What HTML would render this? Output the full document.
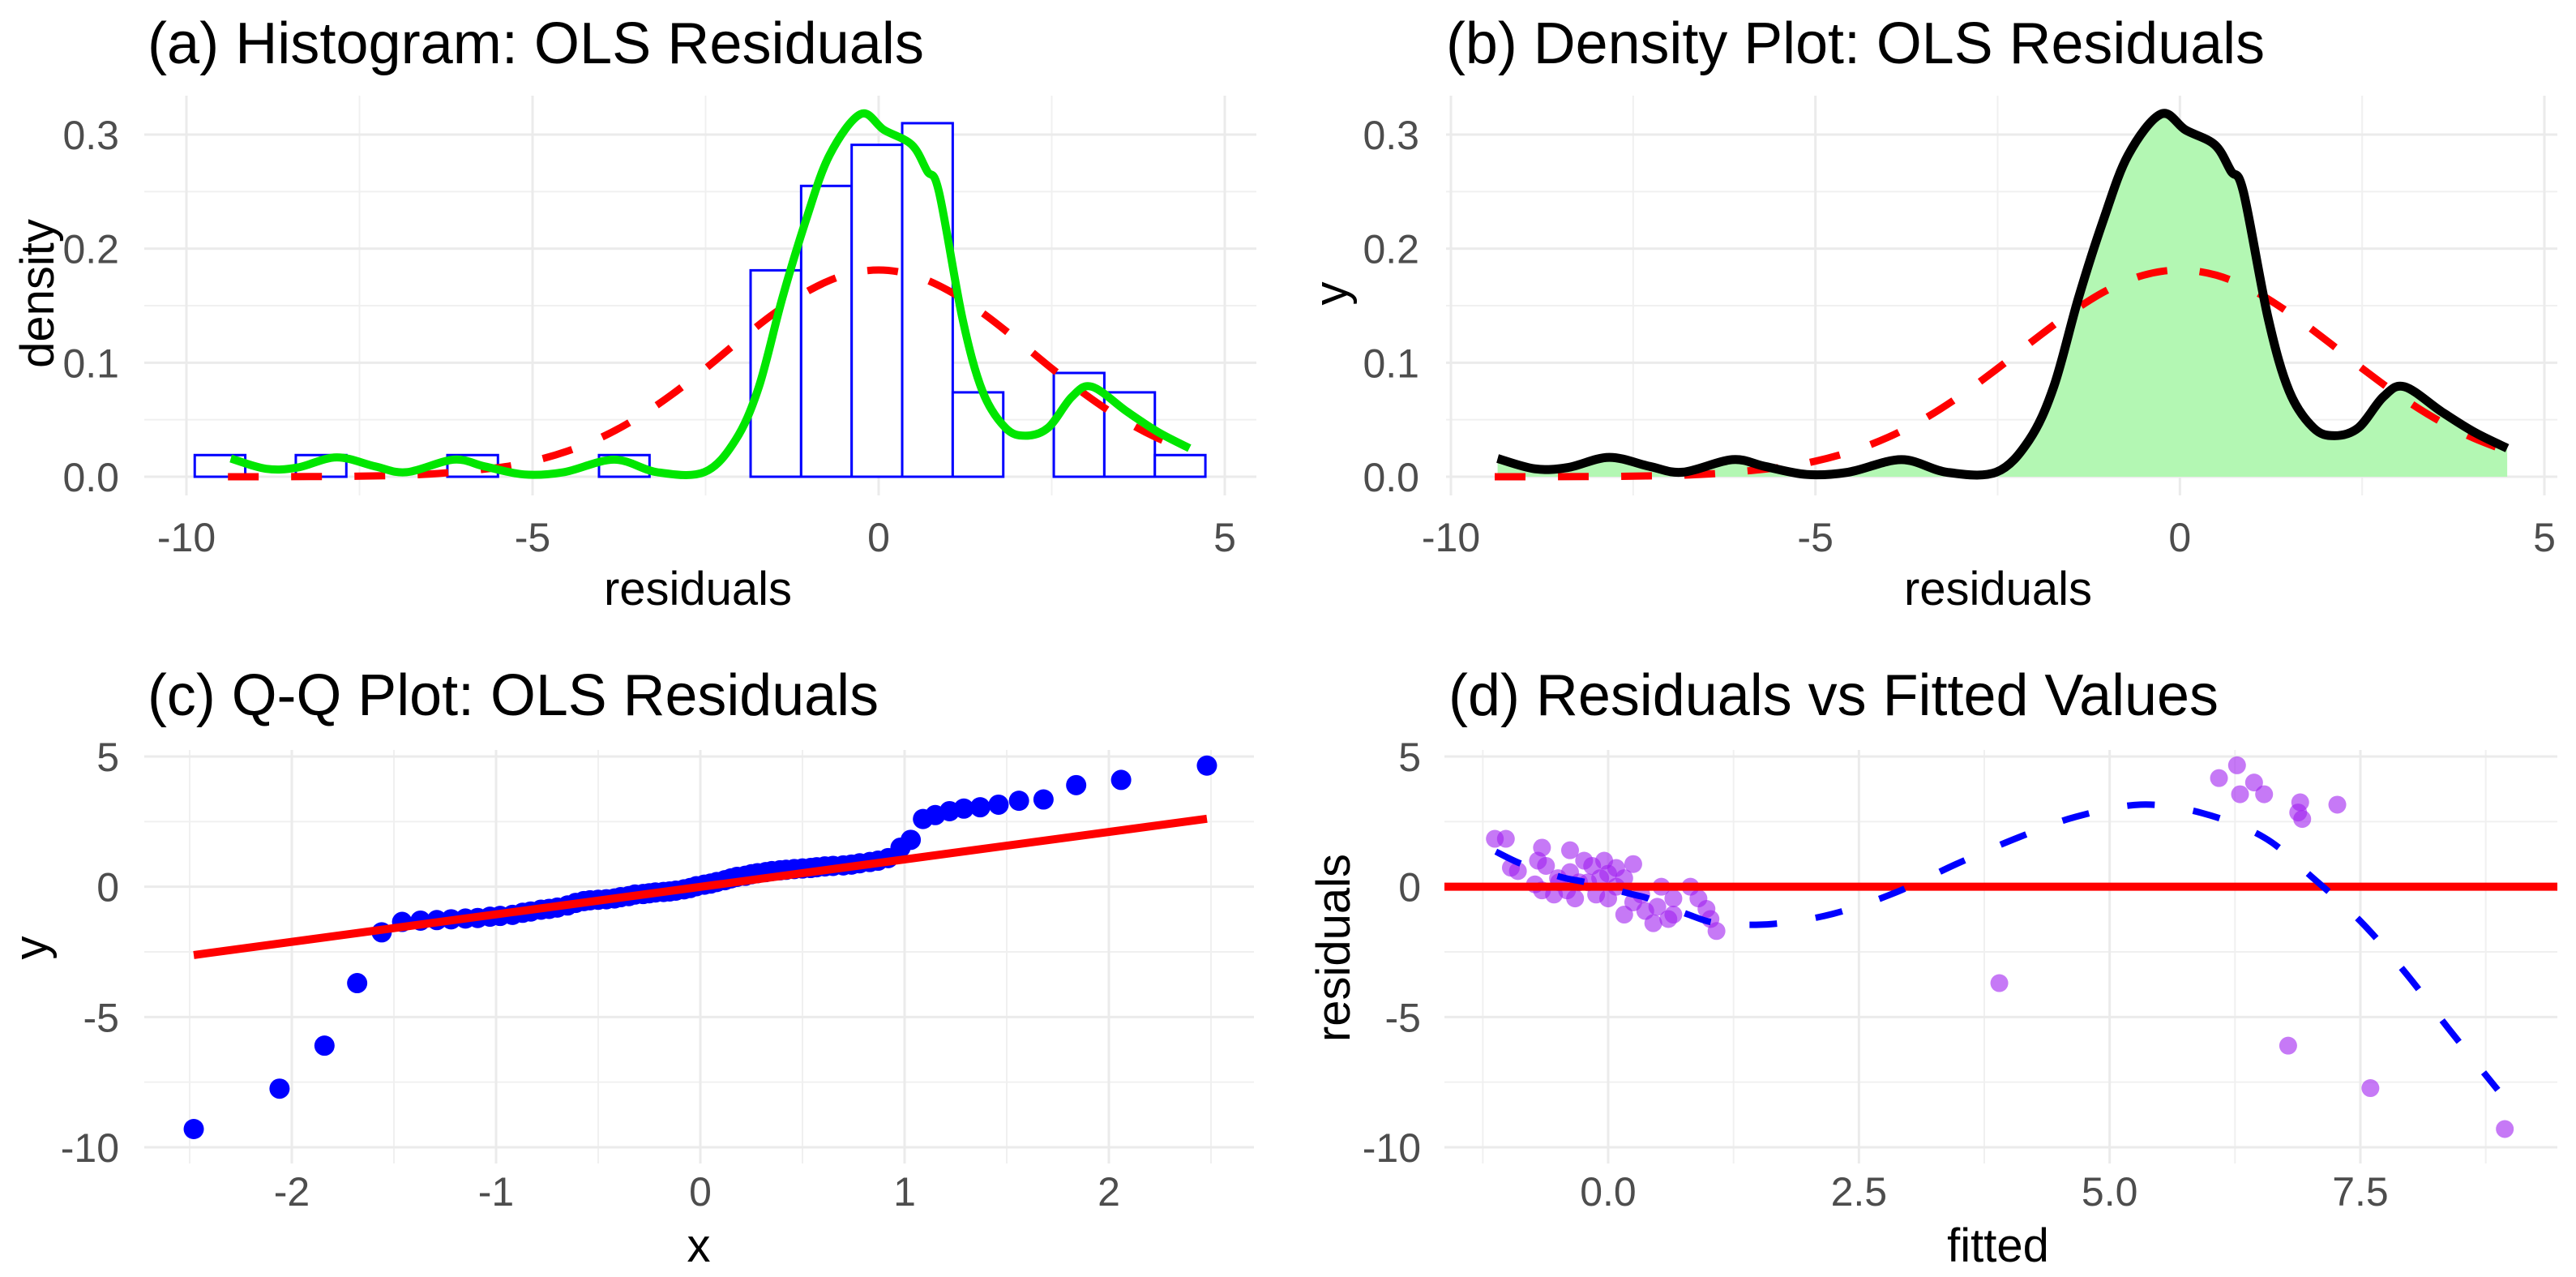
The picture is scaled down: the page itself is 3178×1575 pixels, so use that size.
<!DOCTYPE html>
<html><head><meta charset="utf-8"><style>
html,body{margin:0;padding:0;background:#fff;}
svg{display:block;font-family:"Liberation Sans",Arial,sans-serif;}
</style></head><body>
<svg id="fig" width="3178" height="1575" viewBox="0 0 3178 1575" xmlns="http://www.w3.org/2000/svg">
<rect width="3178" height="1575" fill="#fff"/>
</svg>
<script>
// ---- data ----
const histBinStart = [-9.88,-9.15,-8.42,-7.69,-6.96,-6.23,-5.50,-4.77,-4.04,-3.31,-2.58,-1.85,-1.12,-0.39,0.34,1.07,1.80,2.53,3.26,3.99];
const histBinWidth = 0.73;
const histDensity = [0.019,0,0.019,0,0,0.019,0,0,0.019,0,0,0.181,0.255,0.291,0.31,0.074,0,0.091,0.074,0.019];
const kdeX = [-9.36,-8.85,-8.40,-7.83,-7.27,-6.82,-6.14,-5.69,-5.12,-4.55,-3.82,-3.20,-2.52,-2.07,-1.73,-1.39,-1.05,-0.71,-0.26,0.08,0.48,0.70,0.87,1.21,1.50,1.83,2.12,2.45,2.79,3.08,3.59,4.04,4.49];
const kdeY = [0.016,0.007,0.008,0.017,0.009,0.004,0.015,0.009,0.002,0.004,0.015,0.004,0.004,0.032,0.079,0.157,0.225,0.282,0.318,0.304,0.291,0.268,0.25,0.139,0.075,0.043,0.036,0.043,0.07,0.079,0.057,0.039,0.025];
const normX = [-9.4,-8.5,-7.5,-6.5,-5.5,-5,-4.5,-4,-3.5,-3,-2.5,-2,-1.5,-1,-0.5,0,0.5,1,1.5,2,2.5,3,3.5,4,4.49];
const normY = [0.00002,0.0001,0.0005,0.0023,0.008,0.0137,0.0224,0.0347,0.0511,0.0715,0.095,0.12,0.1437,0.1635,0.1767,0.1813,0.1767,0.1635,0.1437,0.12,0.095,0.0715,0.0511,0.0347,0.0224];
const qqTheo = [-2.48,-2.06,-1.84,-1.68,-1.56,-1.46,-1.37,-1.29,-1.22,-1.15,-1.09,-1.03,-0.98,-0.92,-0.87,-0.83,-0.78,-0.74,-0.70,-0.65,-0.61,-0.57,-0.54,-0.50,-0.46,-0.42,-0.39,-0.35,-0.32,-0.28,-0.25,-0.22,-0.18,-0.15,-0.12,-0.08,-0.05,-0.02,
0.02,0.05,0.08,0.12,0.15,0.18,0.22,0.25,0.28,0.32,0.35,0.39,0.42,0.46,0.50,0.54,0.57,0.61,0.65,0.70,0.74,0.78,0.83,0.87,0.92,0.98,1.03,1.09,1.15,1.22,1.29,1.37,1.46,1.56,1.68,1.84,2.06,2.48];
const qqSample = [-9.3,-7.75,-6.1,-3.7,-1.75,-1.35,-1.3,-1.28,-1.25,-1.22,-1.2,-1.15,-1.12,-1.08,-1.0,-0.95,-0.88,-0.85,-0.8,-0.72,-0.62,-0.55,-0.52,-0.5,-0.48,-0.45,-0.4,-0.36,-0.3,-0.28,-0.25,-0.22,-0.2,-0.18,-0.15,-0.1,-0.05,0.02,
0.08,0.12,0.18,0.25,0.32,0.38,0.42,0.48,0.52,0.56,0.6,0.63,0.65,0.68,0.7,0.72,0.75,0.78,0.8,0.82,0.85,0.9,0.95,1.0,1.1,1.5,1.8,2.6,2.75,2.9,3.0,3.05,3.15,3.3,3.35,3.9,4.1,4.65];
const qqLineX = [-2.48,2.48];
const qqLineY = [-2.62,2.61];
const fitX = [-1.13,-1.02,-0.97,-0.90,-0.66,-0.70,-0.62,-0.66,-0.54,-0.38,-0.38,-0.41,-0.33,-0.24,-0.16,-0.2,-0.12,-0.04,0.0,0.0,0.08,0.16,0.25,0.16,0.25,0.37,0.45,0.53,0.6,0.65,0.82,0.9,0.98,1.02,1.08,-0.49,-0.29,-0.08,0.08,0.33,0.49,0.65,-0.73,-0.5,
3.90,6.78,7.6,8.94,6.27,6.09,6.44,6.30,6.54,6.9,6.88,6.92,7.27];
const fitResid = [1.84,1.84,0.73,0.6,1.5,1.0,0.8,-0.14,-0.3,1.4,0.56,-0.14,-0.45,1.0,0.8,0.17,-0.3,1.0,0.5,-0.45,0.72,0.33,0.87,-1.07,-0.6,-0.93,-1.4,0.0,-1.24,-0.45,0.0,-0.45,-0.85,-1.24,-1.7,0.17,0.17,0.33,0.0,-0.3,-0.77,-1.07,0.09,0.33,
-3.7,-6.1,-7.73,-9.3,4.66,4.17,4.0,3.55,3.55,3.24,2.85,2.6,3.15];
const smoothX = [-1.12,-0.86,-0.46,-0.22,0.25,0.4,0.8,1.1,1.64,2.24,2.86,3.47,4.09,4.66,5.31,5.92,6.54,7.03,7.52,7.97,8.37,8.87];
const smoothY = [1.35,0.87,0.36,0.17,-0.3,-0.45,-1.07,-1.4,-1.43,-1.04,-0.23,0.87,1.89,2.68,3.15,2.83,1.89,0.33,-1.4,-3.4,-5.4,-7.8];
const ticksA_X = [-10,-5,0,5];
const ticksA_Y = [0.0,0.1,0.2,0.3];
const ticksC_X = [-2,-1,0,1,2];
const ticksCD_Y = [-10,-5,0,5];
const ticksD_X = [0.0,2.5,5.0,7.5];

// ---- helpers ----
const NS = "http://www.w3.org/2000/svg";
const svg = document.getElementById('fig');
function mk(tag, attrs, parent){
  const e = document.createElementNS(NS, tag);
  for (const k in attrs) e.setAttribute(k, attrs[k]);
  (parent||svg).appendChild(e);
  return e;
}
function lin(d0,d1,r0,r1){ return v => r0 + (v-d0)*(r1-r0)/(d1-d0); }
function pathFrom(xs, ys, sx, sy){
  return xs.map((x,i)=>(i?'L':'M')+sx(x).toFixed(1)+','+sy(ys[i]).toFixed(1)).join(' ');
}
function smoothFrom(xs, ys, sx, sy){
  const P = xs.map((x,i)=>[sx(x), sy(ys[i])]);
  let d = 'M'+P[0][0].toFixed(1)+','+P[0][1].toFixed(1);
  for (let i=0;i<P.length-1;i++){
    const p0=P[Math.max(0,i-1)], p1=P[i], p2=P[i+1], p3=P[Math.min(P.length-1,i+2)];
    const c1=[p1[0]+(p2[0]-p0[0])/6, p1[1]+(p2[1]-p0[1])/6];
    const c2=[p2[0]-(p3[0]-p1[0])/6, p2[1]-(p3[1]-p1[1])/6];
    d += ' C'+c1[0].toFixed(1)+','+c1[1].toFixed(1)+' '+c2[0].toFixed(1)+','+c2[1].toFixed(1)+' '+p2[0].toFixed(1)+','+p2[1].toFixed(1);
  }
  return d;
}
function grid(g, p, xsMaj, xsMin, ysMaj, ysMin){
  xsMin.forEach(v=>{const l=mk('line',{x1:p.sx(v),x2:p.sx(v),y1:p.top,y2:p.bot,stroke:'#f0f0f0','stroke-width':2},g);
    
    });
  ysMin.forEach(v=>{const l=mk('line',{x1:p.left,x2:p.right,y1:p.sy(v),y2:p.sy(v),stroke:'#f0f0f0','stroke-width':2},g);
    
    });
  xsMaj.forEach(v=>{const l=mk('line',{x1:p.sx(v),x2:p.sx(v),y1:p.top,y2:p.bot,stroke:'#ebebeb','stroke-width':3},g);
    
    });
  ysMaj.forEach(v=>{const l=mk('line',{x1:p.left,x2:p.right,y1:p.sy(v),y2:p.sy(v),stroke:'#ebebeb','stroke-width':3},g);
    
    });
}
function ticks(g, p, xt, xfmt, yt, yfmt, xBase, yRight){
  xt.forEach(v=>{const t=mk('text',{x:p.sx(v),y:xBase,'text-anchor':'middle','font-size':50,fill:'#4d4d4d'},g);
    t.textContent=xfmt(v);
    
    });
  yt.forEach(v=>{const t=mk('text',{x:yRight,y:p.sy(v)+18,'text-anchor':'end','font-size':50,fill:'#4d4d4d'},g);
    t.textContent=yfmt(v);
    
    });
}
function label(g, txt, x, y, name, rot, size, len){
  const a = {x:x,y:y,'font-size':size||58,fill:'#000'};
  if (rot) { a.transform='rotate(-90 '+x+' '+y+')'; }
  a['text-anchor'] = (len? 'start':'middle');
  if (len){ a.textLength=len; a.lengthAdjust='spacingAndGlyphs'; }
  const t = mk('text', a, g);
  t.textContent = txt;
  
  
  return t;
}
const f1 = v=>v.toFixed(1), f0 = v=>String(v);

// ---- panel A ----
{
  const g = mk('g',{});
  
  
  const p = {left:178,right:1550,top:118,bot:611,sx:lin(-10,5,230,1511),sy:lin(0,0.3,588,166)};
  grid(g,p,[-10,-5,0,5],[-7.5,-2.5,2.5],[0,0.1,0.2,0.3],[0.05,0.15,0.25]);
  histBinStart.forEach((b,i)=>{
    const x0=p.sx(b), x1=p.sx(b+histBinWidth), y=p.sy(histDensity[i]);
    const r=mk('rect',{x:x0,y:y,width:x1-x0,height:p.sy(0)-y,fill:'#fff',stroke:'#0000ff','stroke-width':3},g);
    
    
  });
  const n=mk('path',{d:smoothFrom(normX,normY,p.sx,p.sy),fill:'none',stroke:'#ff0000','stroke-width':9,'stroke-dasharray':'38 40'},g);
  
  
  const k=mk('path',{d:smoothFrom(kdeX,kdeY,p.sx,p.sy),fill:'none',stroke:'#00e600','stroke-width':10,'stroke-linejoin':'round'},g);
  
  
  ticks(g,p,ticksA_X,f0,ticksA_Y,f1,680,147);
  label(g,'(a) Histogram: OLS Residuals',182,78,'panel-a-title',false,72,958);
  label(g,'residuals',861,746,'x-axis-title');
  label(g,'density',66,362,'y-axis-title',true);
}
// ---- panel B ----
{
  const g = mk('g',{});
  
  
  const p = {left:1784,right:3155,top:118,bot:611,sx:lin(-10,5,1790,3139),sy:lin(0,0.3,588,166)};
  grid(g,p,[-10,-5,0,5],[-7.5,-2.5,2.5],[0,0.1,0.2,0.3],[0.05,0.15,0.25]);
  const area = smoothFrom(kdeX,kdeY,p.sx,p.sy)+' L'+p.sx(kdeX[kdeX.length-1])+','+p.sy(0)+' L'+p.sx(kdeX[0])+','+p.sy(0)+' Z';
  const a=mk('path',{d:area,fill:'#b3f7b3',stroke:'none'},g);
  
  
  const n=mk('path',{d:smoothFrom(normX,normY,p.sx,p.sy),fill:'none',stroke:'#ff0000','stroke-width':9,'stroke-dasharray':'38 40'},g);
  
  
  const k=mk('path',{d:smoothFrom(kdeX,kdeY,p.sx,p.sy),fill:'none',stroke:'#000','stroke-width':11,'stroke-linejoin':'round'},g);
  
  
  ticks(g,p,ticksA_X,f0,ticksA_Y,f1,680,1751);
  label(g,'(b) Density Plot: OLS Residuals',1784,78,'panel-b-title',false,72,1010);
  label(g,'residuals',2465,746,'x-axis-title');
  label(g,'y',1662,362,'y-axis-title',true);
}
// ---- panel C ----
{
  const g = mk('g',{});
  
  
  const p = {left:178,right:1547,top:925,bot:1435,sx:lin(-2,2,360,1368),sy:lin(5,-10,933,1415)};
  grid(g,p,[-2,-1,0,1,2],[-2.5,-1.5,-0.5,0.5,1.5,2.5],[-10,-5,0,5],[-7.5,-2.5,2.5]);
  qqTheo.forEach((x,i)=>{
    const c=mk('circle',{cx:p.sx(x),cy:p.sy(qqSample[i]),r:12.5,fill:'#0000ff'},g);
    
    
  });
  const l=mk('path',{d:pathFrom(qqLineX,qqLineY,p.sx,p.sy),stroke:'#ff0000','stroke-width':10,fill:'none'},g);
  
  
  ticks(g,p,ticksC_X,f0,ticksCD_Y,f0,1487,147);
  label(g,'(c) Q-Q Plot: OLS Residuals',182,882,'panel-c-title',false,72,902);
  label(g,'x',862,1556,'x-axis-title');
  label(g,'y',58,1169,'y-axis-title',true);
}
// ---- panel D ----
{
  const g = mk('g',{});
  
  
  const p = {left:1782,right:3155,top:925,bot:1435,sx:lin(0,7.5,1984,2912),sy:lin(5,-10,933,1415)};
  grid(g,p,[0,2.5,5,7.5],[-1.25,1.25,3.75,6.25,8.75],[-10,-5,0,5],[-7.5,-2.5,2.5]);
  fitX.forEach((x,i)=>{
    const c=mk('circle',{cx:p.sx(x),cy:p.sy(fitResid[i]),r:11,fill:'#a020f0','fill-opacity':0.6},g);
    
    
  });
  const h=mk('line',{x1:p.left,x2:p.right,y1:p.sy(0),y2:p.sy(0),stroke:'#ff0000','stroke-width':10},g);
  
  
  const s=mk('path',{d:smoothFrom(smoothX,smoothY,p.sx,p.sy),fill:'none',stroke:'#0000ff','stroke-width':8,'stroke-dasharray':'34 48'},g);
  
  
  ticks(g,p,ticksD_X,f1,ticksCD_Y,f0,1487,1753);
  label(g,'(d) Residuals vs Fitted Values',1787,882,'panel-d-title',false,72,950);
  label(g,'fitted',2465,1556,'x-axis-title');
  label(g,'residuals',1665,1169,'y-axis-title',true);
}
</script>
</body></html>
